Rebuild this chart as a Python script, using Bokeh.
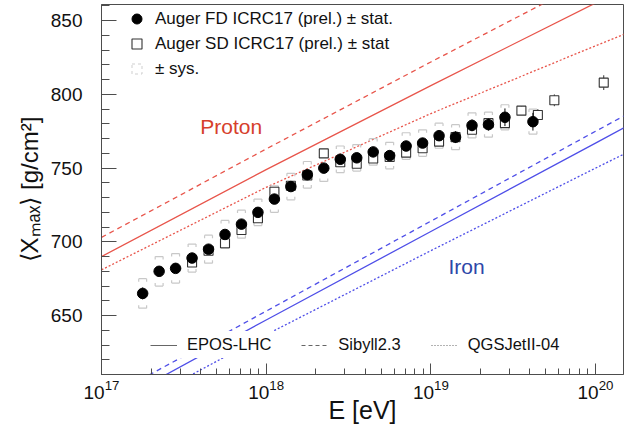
import numpy as np
from bokeh.plotting import figure
from bokeh.models import ColumnDataSource, FixedTicker, Legend, LegendItem, Label
from bokeh.core.properties import value
from bokeh.embed import file_html
from bokeh.resources import INLINE

# ---------------- data ----------------
fd_lgE = [17.25, 17.35, 17.45, 17.55, 17.65, 17.75, 17.85, 17.95, 18.05, 18.15, 18.25, 18.35,
          18.45, 18.55, 18.65, 18.75, 18.85, 18.95, 19.05, 19.15, 19.25, 19.35, 19.45, 19.62]
fd_xmax = [665, 680, 682, 689, 695, 705, 712, 720, 729, 737.5, 745.5, 750,
           756, 757, 761, 758.5, 765, 767, 772, 771, 779, 779.5, 784.5, 781.5]
fd_stat = [4, 3, 3, 3, 3, 3, 3, 3, 3, 3, 3, 3, 3, 3, 3, 3, 3, 3, 3, 4, 4, 4, 6, 6]
fd_sys = [10, 10, 10, 9.5, 9.5, 9.5, 9.5, 9, 9, 9, 9, 9, 9, 9, 9, 9, 9, 9,
          8.5, 8.5, 8.5, 8.5, 8.5, 8.5]

sd_lgE = [17.55, 17.65, 17.75, 17.85, 17.95, 18.05, 18.15, 18.25, 18.35, 18.45, 18.55, 18.65,
          18.75, 18.85, 18.95, 19.05, 19.15, 19.25, 19.35, 19.45, 19.55, 19.65, 19.75, 20.05]
sd_xmax = [686, 694, 699, 708, 716, 734, 738, 745, 760, 754, 753, 756.5,
           757.5, 760.5, 763.5, 768, 771, 776, 780.5, 780.5, 789, 786, 796, 808]
sd_stat = [2, 2, 2, 2, 2, 2, 2, 2, 2, 2, 2, 2, 2, 2, 2, 2, 2, 2, 3, 3, 3, 4, 4, 5]

model_lgE = [17.0, 18.0, 19.0, 20.0, 20.2]
proton_epos = [690, 749, 806, 862, 873]
proton_sibyll = [703, 763, 822, 880, 892]
proton_qgsjet = [681, 737, 787, 833, 842]
iron_epos = [586, 647, 707, 767, 779]
iron_sibyll = [592, 653, 714, 775, 787]
iron_qgsjet = [577, 637, 694, 750, 761]

x_major_exponents = [17, 18, 19, 20]
y_major_ticks = [650, 700, 750, 800, 850]
y_minor_ticks = list(range(610, 861, 10))

FONT = "Liberation Sans"
RED = "#e8554b"
BLUE = "#4f4fe8"
GRAY_LEG = "#666666"

# ---------------- figure ----------------
p = figure(width=625, height=433, x_axis_type="log",
           x_range=(1e17, 10 ** 20.17), y_range=(610, 861),
           output_backend="svg", toolbar_location=None,
           min_border_left=101, min_border_right=2, min_border_top=4, min_border_bottom=59)
p.grid.visible = False
p.outline_line_color = "#4d4d4d"
p.outline_line_width = 1
p.background_fill_color = "white"
p.border_fill_color = "white"

x_major = [10.0 ** e for e in x_major_exponents]
x_minor = [k * 10.0 ** e for e in x_major_exponents for k in range(2, 10)]
p.xaxis.ticker = FixedTicker(ticks=x_major, minor_ticks=x_minor)
p.yaxis.ticker = FixedTicker(ticks=y_major_ticks, minor_ticks=y_minor_ticks)

for ax in (p.xaxis[0], p.yaxis[0]):
    ax.axis_line_color = "#4d4d4d"
    ax.major_tick_line_color = "#4d4d4d"
    ax.minor_tick_line_color = "#4d4d4d"
    ax.major_tick_out = 0
    ax.minor_tick_out = 0
    ax.major_label_text_font = FONT
    ax.major_label_text_font_size = "19px"
    ax.major_label_text_color = "#111111"
    ax.axis_label_text_font = FONT
    ax.axis_label_text_font_style = "normal"
    ax.axis_label_text_color = "#111111"

p.xaxis.major_tick_in = 11
p.xaxis.minor_tick_in = 6
p.yaxis.major_tick_in = 15
p.yaxis.minor_tick_in = 8

p.xaxis.axis_label = "E [eV]"
p.xaxis.axis_label_text_font_size = "25px"
p.xaxis.major_label_standoff = 5
p.xaxis.axis_label_standoff = -6

p.yaxis.axis_label = "\u27e8X\u2098\u2090\u2093\u27e9 [g/cm\u00b2]"
p.yaxis.axis_label_text_font_size = "24px"
p.yaxis.major_label_standoff = 19
p.yaxis.axis_label_standoff = 5

# ---------------- model lines ----------------
mE = [10.0 ** v for v in model_lgE]
src_m = ColumnDataSource(dict(E=mE, pe=proton_epos, ps=proton_sibyll, pq=proton_qgsjet,
                              fe=iron_epos, fs=iron_sibyll, fq=iron_qgsjet))
lw = 1.3
p.line("E", "pe", source=src_m, line_color=RED, line_width=lw)
p.line("E", "ps", source=src_m, line_color=RED, line_width=lw, line_dash="5 4")
p.line("E", "pq", source=src_m, line_color=RED, line_width=lw, line_dash="2 2")
p.line("E", "fe", source=src_m, line_color=BLUE, line_width=lw)
p.line("E", "fs", source=src_m, line_color=BLUE, line_width=lw, line_dash="5 4")
p.line("E", "fq", source=src_m, line_color=BLUE, line_width=lw, line_dash="2 2")

# ---------------- FD systematic brackets ----------------
fdE = np.array([10.0 ** v for v in fd_lgE])
fdX = np.array(fd_xmax, dtype=float)
fdS = np.array(fd_sys, dtype=float)
r = 10 ** 0.024
tk = 2.0
xl, xr = fdE / r, fdE * r
top, bot = fdX + fdS, fdX - fdS
x0 = np.concatenate([xl, xl, xl, xr, xl, xr])
x1 = np.concatenate([xr, xr, xl, xr, xl, xr])
y0 = np.concatenate([top, bot, top, top, bot, bot])
y1 = np.concatenate([top, bot, top - tk, top - tk, bot + tk, bot + tk])
p.segment(x0=x0, y0=y0, x1=x1, y1=y1, line_color="#c8c8c8", line_width=1.2)

# ---------------- SD ----------------
sdE = np.array([10.0 ** v for v in sd_lgE])
sdX = np.array(sd_xmax, dtype=float)
sdSt = np.array(sd_stat, dtype=float)
p.segment(x0=sdE, y0=sdX - sdSt, x1=sdE, y1=sdX + sdSt, line_color="#333333", line_width=1)
sd_src = ColumnDataSource(dict(E=sdE, X=sdX))
sd_r = p.scatter("E", "X", source=sd_src, marker="square", size=9,
                 fill_color="white", line_color="#333333", line_width=1.1)

# ---------------- FD ----------------
fdSt = np.array(fd_stat, dtype=float)
p.segment(x0=fdE, y0=fdX - fdSt, x1=fdE, y1=fdX + fdSt, line_color="black", line_width=1)
fd_src = ColumnDataSource(dict(E=fdE, X=fdX))
fd_r = p.scatter("E", "X", source=fd_src, marker="circle", size=10.5,
                 fill_color="black", line_color="black")

# dummy renderers for legend icons
nan_src = ColumnDataSource(dict(x=[np.nan], y=[np.nan]))
sys_r = p.scatter("x", "y", source=nan_src, marker="square", size=10, fill_alpha=0,
                  line_color="#cfcfcf", line_width=1, line_dash="3 3")
l_epos = p.line("x", "y", source=nan_src, line_color=GRAY_LEG, line_width=1)
l_sib = p.line("x", "y", source=nan_src, line_color=GRAY_LEG, line_width=1, line_dash="4 3")
l_qgs = p.line("x", "y", source=nan_src, line_color=GRAY_LEG, line_width=1, line_dash="1 2")

# ---------------- labels ----------------
p.add_layout(Label(x=10 ** 17.6, y=778, text="Proton", text_font=FONT, text_font_size="21px",
                   text_color="#d6402c", text_baseline="middle", text_align="left"))
p.add_layout(Label(x=10 ** 19.107, y=683, text="Iron", text_font=FONT, text_font_size="21px",
                   text_color="#2d47a8", text_baseline="middle", text_align="left"))

# ---------------- legends ----------------
leg_top = Legend(items=[
    LegendItem(label=value("Auger FD ICRC17 (prel.) \u00b1 stat."), renderers=[fd_r]),
    LegendItem(label=value("Auger SD ICRC17 (prel.) \u00b1 stat"), renderers=[sd_r]),
    LegendItem(label=value("\u00b1 sys."), renderers=[sys_r]),
], location=(23, 293), orientation="vertical")
leg_top.label_text_font = FONT
leg_top.label_text_font_size = "17px"
leg_top.label_text_color = "#111111"
leg_top.glyph_width = 25
leg_top.glyph_height = 25
leg_top.label_height = 25
leg_top.label_standoff = 6
leg_top.spacing = 0
leg_top.padding = 0
leg_top.margin = 0
leg_top.border_line_alpha = 0
leg_top.background_fill_alpha = 0
p.add_layout(leg_top)

leg_bot = Legend(items=[
    LegendItem(label=value("EPOS-LHC"), renderers=[l_epos]),
    LegendItem(label=value("Sibyll2.3"), renderers=[l_sib]),
    LegendItem(label=value("QGSJetII-04"), renderers=[l_qgs]),
], location=(45, 16), orientation="horizontal")
leg_bot.label_text_font = FONT
leg_bot.label_text_font_size = "16.5px"
leg_bot.label_text_color = "#111111"
leg_bot.glyph_width = 27
leg_bot.glyph_height = 16
leg_bot.label_height = 16
leg_bot.label_standoff = 10
leg_bot.spacing = 30
leg_bot.padding = 4
leg_bot.margin = 0
leg_bot.border_line_alpha = 0
leg_bot.background_fill_color = "white"
leg_bot.background_fill_alpha = 1
p.add_layout(leg_bot)

open("out.html", "w").write(file_html(p, INLINE))
